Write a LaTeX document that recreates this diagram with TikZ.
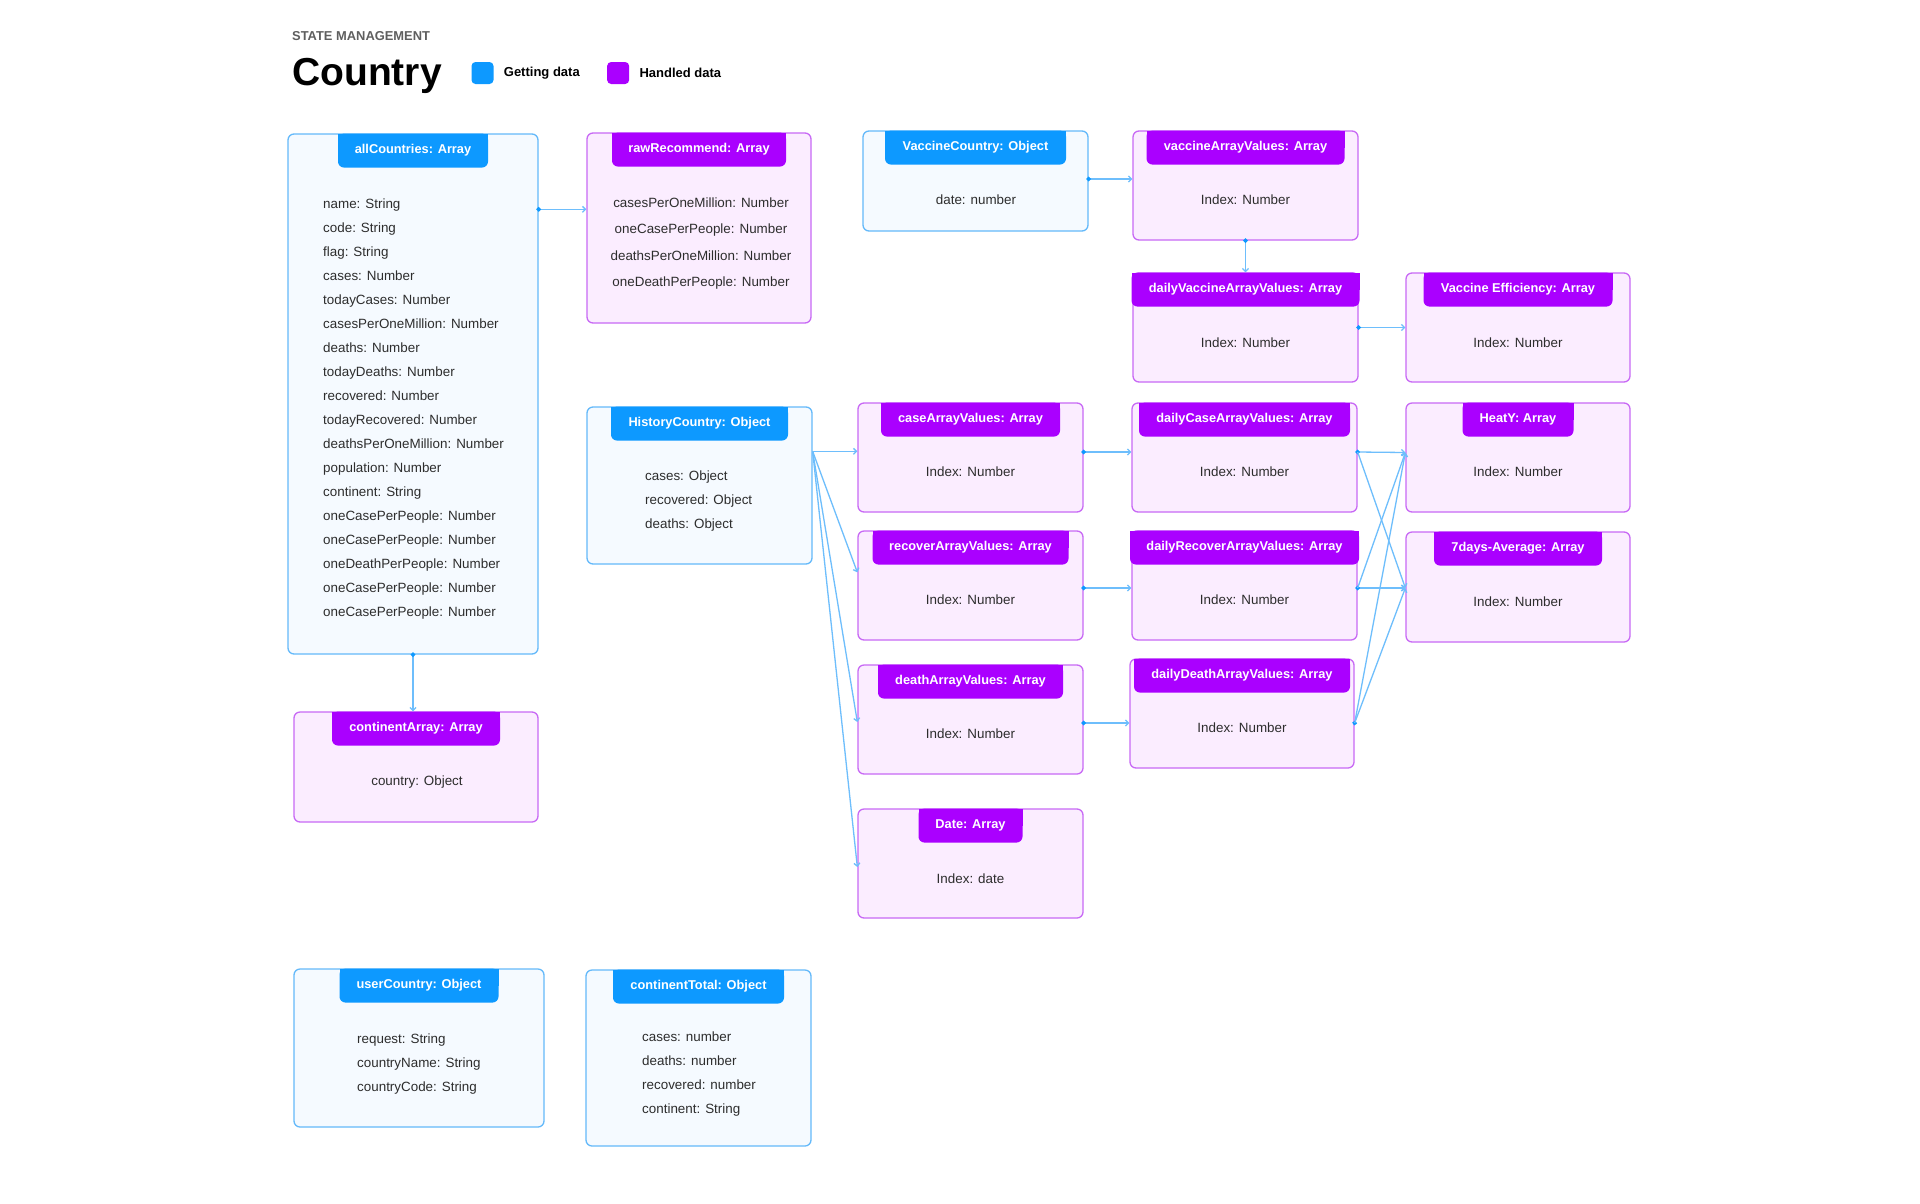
\documentclass[tikz,border=0pt]{standalone}
\usepackage{fontspec}
\setmainfont{Liberation Sans}
\usepackage{xcolor}
\usetikzlibrary{arrows.meta,positioning}
\definecolor{getblue}{RGB}{13,153,255}
\definecolor{handpurple}{RGB}{170,0,255}
\definecolor{getfill}{RGB}{245,250,255}
\definecolor{handfill}{RGB}{251,237,255}
\definecolor{getline}{RGB}{100,185,250}
\definecolor{handline}{RGB}{200,105,245}
\definecolor{linkblue}{RGB}{110,190,252}
\definecolor{fieldgray}{RGB}{45,45,45}
\definecolor{subgray}{RGB}{95,95,95}
\tikzset{
  % 全局字体
  every node/.append style={font=\fontsize{13.4}{24}\selectfont},
  % 获取数据的盒子
  getbox/.style={draw=getline, fill=getfill, line width=1.3pt, rounded corners=6pt, inner sep=0pt},
  % 处理数据的盒子
  handbox/.style={getbox, draw=handline, fill=handfill},
  % 标题条上半部分(直角)
  gettab/.style={fill=getblue, anchor=north, minimum height=17pt, inner sep=0pt},
  handtab/.style={gettab, fill=handpurple},
  % 标题条
  gethead/.style={fill=getblue, text=white, anchor=north, rounded corners=6pt,
    minimum height=34pt, inner sep=0pt, font=\bfseries\fontsize{12.8}{15}\selectfont},
  handhead/.style={gethead, fill=handpurple},
  % 字段文字
  field/.style={text=fieldgray, align=left, inner sep=0pt},
  % 图例
  legsq/.style={minimum size=22pt, inner sep=0pt, rounded corners=4pt},
  legtxt/.style={inner sep=0pt, font=\bfseries\fontsize{13}{16}\selectfont},
  % 连线
  link/.style={linkblue, line width=1.3pt, -{Straight Barb[length=3pt, width=6pt]}},
  dotlink/.style={link, {Circle[length=4.5pt, color=getblue, sep=-2.25pt]}-{Straight Barb[length=3pt, width=6pt]}},
}
\begin{document}
\begin{tikzpicture}[x=1pt, y=-1pt]
    \useasboundingbox[fill=white] (0,0) rectangle (1920,1203);

    % 标题与图例
    \node[anchor=west, inner sep=0pt, text=subgray, font=\bfseries\fontsize{12.9}{16}\selectfont] (kicker) at (292,36) {STATE MANAGEMENT};
    \node[anchor=base west, inner sep=0pt, font=\bfseries\fontsize{39}{44}\selectfont] (title) at (292,85) {Country};
    \node[legsq, fill=getblue] (legGet) at (482.5,73) {};
    \node[legtxt, right=10pt of legGet] (legGetT) {Getting data};
    \node[legsq, fill=handpurple, right=27pt of legGetT] (legHand) {};
    \node[legtxt, right=10pt of legHand] (legHandT) {Handled data};

    % 盒子
    \node[getbox, minimum width=250pt, minimum height=520pt] (allC) at (413,394) {};
    \node[handbox, minimum width=224pt, minimum height=190pt] (rawRec) at (699,228) {};
    \node[getbox, minimum width=225pt, minimum height=100pt] (vacC) at (975.5,181) {};
    \node[handbox, minimum width=225pt, minimum height=109pt] (vacArr) at (1245.5,185.5) {};
    \node[handbox, minimum width=225pt, minimum height=109pt] (dVac) at (1245.5,327.5) {};
    \node[handbox, minimum width=224pt, minimum height=109pt] (vEff) at (1518,327.5) {};
    \node[getbox, minimum width=225pt, minimum height=157pt] (hist) at (699.5,485.5) {};
    \node[handbox, minimum width=225pt, minimum height=109pt] (caseArr) at (970.5,457.5) {};
    \node[handbox, minimum width=225pt, minimum height=109pt] (dCase) at (1244.5,457.5) {};
    \node[handbox, minimum width=224pt, minimum height=109pt] (heat) at (1518,457.5) {};
    \node[handbox, minimum width=225pt, minimum height=109pt] (recArr) at (970.5,585.5) {};
    \node[handbox, minimum width=225pt, minimum height=109pt] (dRec) at (1244.5,585.5) {};
    \node[handbox, minimum width=224pt, minimum height=110pt] (avg7) at (1518,587) {};
    \node[handbox, minimum width=225pt, minimum height=109pt] (deathArr) at (970.5,719.5) {};
    \node[handbox, minimum width=224pt, minimum height=109pt] (dDeath) at (1242,713.5) {};
    \node[handbox, minimum width=225pt, minimum height=109pt] (date) at (970.5,863.5) {};
    \node[handbox, minimum width=244pt, minimum height=110pt] (contArr) at (416,767) {};
    \node[getbox, minimum width=250pt, minimum height=158pt] (userC) at (419,1048) {};
    \node[getbox, minimum width=225pt, minimum height=176pt] (contTot) at (698.5,1058) {};

    % 标题条
    \node[gettab, minimum width=150pt] (allCt) at (allC.north) {};
    \node[gethead, minimum width=150pt] (allCh) at (allC.north) {allCountries: Array};
    \node[handtab, minimum width=174pt] (rawRect) at (rawRec.north) {};
    \node[handhead, minimum width=174pt] (rawRech) at (rawRec.north) {rawRecommend: Array};
    \node[gettab, minimum width=181pt] (vacCt) at (vacC.north) {};
    \node[gethead, minimum width=181pt] (vacCh) at (vacC.north) {VaccineCountry: Object};
    \node[handtab, minimum width=198pt] (vacArrt) at (vacArr.north) {};
    \node[handhead, minimum width=198pt] (vacArrh) at (vacArr.north) {vaccineArrayValues: Array};
    \node[handtab, minimum width=228pt] (dVact) at (dVac.north) {};
    \node[handhead, minimum width=228pt] (dVach) at (dVac.north) {dailyVaccineArrayValues: Array};
    \node[handtab, minimum width=189pt] (vEfft) at (vEff.north) {};
    \node[handhead, minimum width=189pt] (vEffh) at (vEff.north) {Vaccine Efficiency: Array};
    \node[gettab, minimum width=177pt] (histt) at (hist.north) {};
    \node[gethead, minimum width=177pt] (histh) at (hist.north) {HistoryCountry: Object};
    \node[handtab, minimum width=179pt] (caseArrt) at (caseArr.north) {};
    \node[handhead, minimum width=179pt] (caseArrh) at (caseArr.north) {caseArrayValues: Array};
    \node[handtab, minimum width=211pt] (dCaset) at (dCase.north) {};
    \node[handhead, minimum width=211pt] (dCaseh) at (dCase.north) {dailyCaseArrayValues: Array};
    \node[handtab, minimum width=111pt] (heatt) at (heat.north) {};
    \node[handhead, minimum width=111pt] (heath) at (heat.north) {HeatY: Array};
    \node[handtab, minimum width=196pt] (recArrt) at (recArr.north) {};
    \node[handhead, minimum width=196pt] (recArrh) at (recArr.north) {recoverArrayValues: Array};
    \node[handtab, minimum width=229pt] (dRect) at (dRec.north) {};
    \node[handhead, minimum width=229pt] (dRech) at (dRec.north) {dailyRecoverArrayValues: Array};
    \node[handtab, minimum width=168pt] (avg7t) at (avg7.north) {};
    \node[handhead, minimum width=168pt] (avg7h) at (avg7.north) {7days-Average: Array};
    \node[handtab, minimum width=185pt] (deathArrt) at (deathArr.north) {};
    \node[handhead, minimum width=185pt] (deathArrh) at (deathArr.north) {deathArrayValues: Array};
    \node[handtab, minimum width=216pt] (dDeatht) at (dDeath.north) {};
    \node[handhead, minimum width=216pt] (dDeathh) at (dDeath.north) {dailyDeathArrayValues: Array};
    \node[handtab, minimum width=104pt] (datet) at (date.north) {};
    \node[handhead, minimum width=104pt] (dateh) at (date.north) {Date: Array};
    \node[handtab, minimum width=168pt] (contArrt) at (contArr.north) {};
    \node[handhead, minimum width=168pt] (contArrh) at (contArr.north) {continentArray: Array};
    \node[gettab, minimum width=159pt] (userCt) at (userC.north) {};
    \node[gethead, minimum width=159pt] (userCh) at (userC.north) {userCountry: Object};
    \node[gettab, minimum width=171pt] (contTott) at (contTot.north) {};
    \node[gethead, minimum width=171pt] (contToth) at (contTot.north) {continentTotal: Object};

    % 字段
    \node[field, anchor=west] (allCf) at (323,409) {name: String\\code: String\\flag: String\\cases: Number\\todayCases: Number\\casesPerOneMillion: Number\\deaths: Number\\todayDeaths: Number\\recovered: Number\\todayRecovered: Number\\deathsPerOneMillion: Number\\population: Number\\continent: String\\oneCasePerPeople: Number\\oneCasePerPeople: Number\\oneDeathPerPeople: Number\\oneCasePerPeople: Number\\oneCasePerPeople: Number};
    \node[field, align=center, font=\fontsize{13.4}{26.3}\selectfont] (rawRecf) at (701,243.5) {casesPerOneMillion: Number\\oneCasePerPeople: Number\\deathsPerOneMillion: Number\\oneDeathPerPeople: Number};
    \node[field] (vacCf) at (976,200) {date: number};
    \node[field] (vacArrf) at (1245.5,200) {Index: Number};
    \node[field] (dVacf) at (1245.5,343) {Index: Number};
    \node[field] (vEfff) at (1518,343) {Index: Number};
    \node[field, anchor=west] (histf) at (645,501) {cases: Object\\recovered: Object\\deaths: Object};
    \node[field] (caseArrf) at (970.5,472) {Index: Number};
    \node[field] (dCasef) at (1244.5,472) {Index: Number};
    \node[field] (heatf) at (1518,472) {Index: Number};
    \node[field] (recArrf) at (970.5,600) {Index: Number};
    \node[field] (dRecf) at (1244.5,600) {Index: Number};
    \node[field] (avg7f) at (1518,602) {Index: Number};
    \node[field] (deathArrf) at (970.5,734) {Index: Number};
    \node[field] (dDeathf) at (1242,728) {Index: Number};
    \node[field] (datef) at (970.5,879) {Index: date};
    \node[field] (contArrf) at (417,782) {country: Object};
    \node[field, anchor=west] (userCf) at (357,1064) {request: String\\countryName: String\\countryCode: String};
    \node[field, anchor=west] (contTotf) at (642,1074) {cases: number\\deaths: number\\recovered: number\\continent: String};

    % 连线
    \draw[dotlink] ([yshift=-76pt]allC.north east) coordinate (p1) -- (p1 -| rawRec.west);
    \draw[dotlink] (allC.south) -- (allC.south |- contArr.north);
    \draw[dotlink] ([yshift=2pt]vacC.east) coordinate (p2) -- (p2 -| vacArr.west);
    \draw[dotlink] (vacArr.south) -- (dVac.north);
    \draw[dotlink] (dVac.east) -- (vEff.west);

    \coordinate (hOut) at ([yshift=-45pt]hist.north east);
    \draw[link] (hOut) -- (hOut -| caseArr.west);
    \draw[link] (hOut) -- ([yshift=-42pt]recArr.north west);
    \draw[link] (hOut) -- ([yshift=-2.5pt]deathArr.west);
    \draw[link] (hOut) -- ([yshift=-3.5pt]date.west);

    \draw[dotlink] ([yshift=5.5pt]caseArr.east) coordinate (p4) -- (p4 -| dCase.west);
    \draw[dotlink] ([yshift=-2.5pt]recArr.east) coordinate (p5) -- (p5 -| dRec.west);
    \draw[dotlink] ([yshift=-3.5pt]deathArr.east) coordinate (p6) -- (p6 -| dDeath.west);

    \coordinate (heatIn) at ([yshift=5pt]heat.west);
    \coordinate (avgIn) at ([yshift=-1pt]avg7.west);
    \coordinate (caseOut) at ([yshift=5.5pt]dCase.east);
    \coordinate (recOut) at ([yshift=-2.5pt]dRec.east);
    \coordinate (deathOut) at ([yshift=-9.5pt]dDeath.east);
    \draw[dotlink] (caseOut) -- (heatIn);
    \draw[link] (caseOut) -- (avgIn);
    \draw[dotlink] (recOut) -- (avgIn);
    \draw[link] (recOut) -- (heatIn);
    \draw[dotlink] (deathOut) -- (heatIn);
    \draw[link] (deathOut) -- (avgIn);
\end{tikzpicture}
\end{document}
